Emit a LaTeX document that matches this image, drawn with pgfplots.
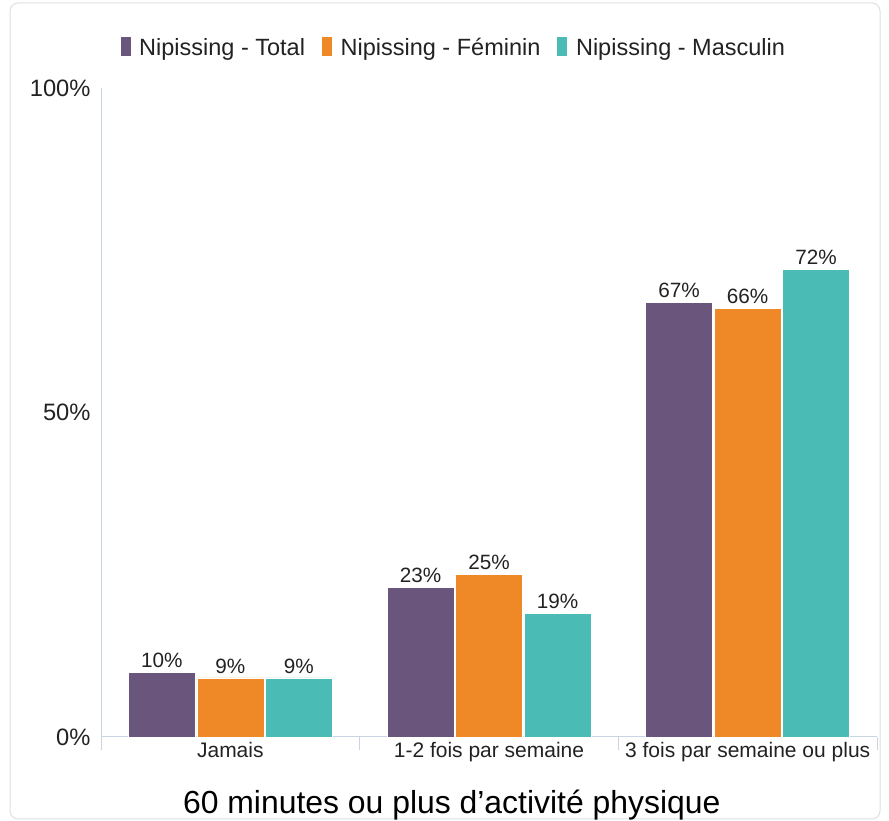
\documentclass[border=0pt]{standalone}
\usepackage{pgfplots}
\pgfplotsset{compat=1.18}
\usepackage{fontspec}
\setmainfont{Liberation Sans}
\definecolor{cpurple}{HTML}{6A567C}
\definecolor{corange}{HTML}{EF8826}
\definecolor{cteal}{HTML}{4BBCB5}
\definecolor{caxis}{HTML}{C9D5E3}
\definecolor{ctext}{HTML}{222222}
\pgfplotsset{/pgf/number format/assume math mode=true}
\begin{document}
\begin{tikzpicture}
\path[use as bounding box] (0,0) rectangle (889pt,821pt);
\draw[gray!25, line width=1pt, rounded corners=8pt] (10pt,2pt) rectangle (880pt,818pt);
\begin{axis}[
  at={(101pt,84pt)}, anchor=south west,
  scale only axis, width=776pt, height=649pt,
  ybar=1.5pt, bar width=67pt,
  xmin=-0.5, xmax=2.5, ymin=0, ymax=100,
  xtick={-0.5,0.5,1.5,2.5},
  xticklabels={},
  xtick style={draw=caxis, line width=1pt},
  major tick length=13pt, tick align=outside,
  extra x ticks={0,1,2},
  extra x tick labels={Jamais,1-2 fois par semaine,3 fois par semaine ou plus},
  extra x tick style={major tick length=0pt, xticklabel style={font=\fontsize{21}{25}\selectfont, text=ctext, yshift=-1pt}},
  ytick={0,50,100}, yticklabels={0\%,50\%,100\%},
  major y tick style={draw=none},
  axis x line*=bottom, axis y line*=left,
  axis line style={draw=caxis, line width=1pt, -},
  xticklabel style={font=\fontsize{21}{25}\selectfont, text=ctext, yshift=-1pt},
  yticklabel style={font=\fontsize{23.7}{28}\selectfont, text=ctext, xshift=6pt},
  nodes near coords={\pgfmathprintnumber[fixed,precision=0]{\pgfplotspointmeta}\%},
  nodes near coords style={font=\fontsize{20.7}{24}\selectfont, text=ctext, yshift=1pt},
  xlabel={60 minutes ou plus d’activité physique},
  xlabel style={at={(axis description cs:0.452,-0.105)}, anchor=center, font=\fontsize{31.9}{38}\selectfont, text=black},
  legend style={at={(axis description cs:0.454,1.062)}, anchor=center, draw=none, fill=none,
    legend columns=3, font=\fontsize{23.5}{28}\selectfont, text=ctext,
    /tikz/every even column/.append style={column sep=14pt},
    /tikz/every odd column/.append style={column sep=6pt}},
  legend image code/.code={\fill[#1] (0pt,-9pt) rectangle (11pt,11pt);},
]
\addplot[fill=cpurple, draw=white, line width=0.6pt] coordinates {(0,10.0) (1,23.1) (2,67.0)};
\addplot[fill=corange, draw=white, line width=0.6pt] coordinates {(0,9.1) (1,25.0) (2,66.1)};
\addplot[fill=cteal, draw=white, line width=0.6pt] coordinates {(0,9.1) (1,19.0) (2,72.1)};
\legend{Nipissing - Total,Nipissing - Féminin,Nipissing - Masculin}
\end{axis}
\end{tikzpicture}
\end{document}
